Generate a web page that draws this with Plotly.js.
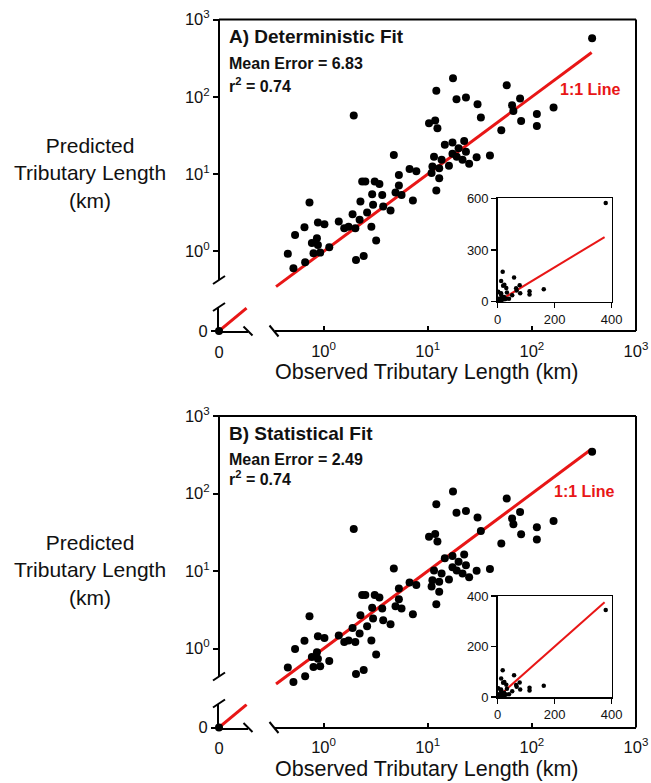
<!DOCTYPE html>
<html><head><meta charset="utf-8">
<script src="https://cdn.plot.ly/plotly-3.0.1.min.js"></script>
<style>html,body{margin:0;padding:0;background:#fff}#chart{width:651px;height:783px}</style>
</head><body><div id="chart"></div>
<script>
// ---- data ----
const observedLength = [379, 1.95, 17.5, 12.1, 18.9, 23.3, 30.1, 32.4, 10.3, 11.8, 12.4, 57.4, 77.1, 64.6, 66.5, 78.9, 111.7, 111.7, 161.6, 50.9,
  4.73, 14.6, 17.3, 22.4, 19.8, 23.3, 17.3, 19.0, 21.6, 25.0, 29.5, 39.6, 11.5, 13.6, 16.0, 11.1, 12.9, 6.7, 7.78, 5.29, 10.9, 12.9, 12.1,
  0.733, 0.533, 0.656, 0.454, 0.514, 0.666, 0.801, 0.773, 0.864, 0.883, 0.929, 0.883, 1.02, 1.135, 1.40, 1.58, 1.74, 2.02, 1.90, 2.26, 2.22, 2.62, 2.88, 3.20, 2.05, 2.43,
  2.35, 2.52, 3.10, 3.44, 2.93, 3.66, 2.99, 3.74, 4.40, 5.29, 4.91, 5.61, 7.21];
const predictedDeterministic = [573, 57.1, 174, 120, 93, 97.7, 80.2, 53.8, 45.5, 49.2, 39.3, 141, 94.8, 77.9, 65.7, 48.8, 60.1, 42.0, 72.5, 37.0,
  17.7, 23.9, 25.6, 26.9, 21.6, 19.5, 18.3, 16.8, 15.3, 13.6, 16.5, 17.4, 16.8, 15.3, 12.8, 12.5, 11.9, 11.6, 10.9, 9.77, 10.3, 8.85, 6.12,
  4.28, 1.63, 2.06, 0.93, 0.606, 0.725, 0.948, 1.28, 1.48, 1.21, 0.965, 2.36, 2.25, 1.13, 2.43, 2.0, 2.09, 2.0, 3.03, 4.41, 2.56, 3.18, 2.09, 1.38, 0.776, 0.875,
  8.0, 8.0, 8.0, 7.47, 5.50, 5.38, 4.0, 3.80, 3.37, 7.10, 5.76, 5.38, 4.54];
const predictedStatistical = [345, 34.8, 106, 73, 56.7, 59.6, 48.9, 32.8, 27.8, 30.0, 24.0, 86, 57.8, 47.5, 40.1, 29.8, 36.7, 25.6, 44.2, 22.6,
  10.8, 14.6, 15.6, 16.4, 13.2, 11.9, 11.2, 10.2, 9.3, 8.3, 10.1, 10.6, 10.2, 9.3, 7.8, 7.6, 7.3, 7.1, 6.6, 5.96, 6.3, 5.4, 3.73,
  2.61, 0.99, 1.26, 0.57, 0.37, 0.44, 0.58, 0.78, 0.90, 0.74, 0.59, 1.44, 1.37, 0.69, 1.48, 1.22, 1.27, 1.22, 1.85, 2.69, 1.56, 1.94, 1.27, 0.84, 0.47, 0.53,
  4.9, 4.9, 4.9, 4.56, 3.36, 3.28, 2.44, 2.32, 2.06, 4.33, 3.51, 3.28, 2.77];
const zeroObserved = [0];
const zeroPredicted = [0];
const oneToOneLine = [0.35, 375];
const zeroSegmentLine = [0, 0.95];
const logTickVals = [1, 10, 100, 1000];
const logTickText = ['10<sup>0</sup>', '10<sup>1</sup>', '10<sup>2</sup>', '10<sup>3</sup>'];
const zeroTickVals = [0];
const zeroTickText = ['0'];
const insetXTicks = [0, 200, 400];
const insetYTicksA = [0, 300, 600];
const insetYTicksB = [0, 200, 400];
const panelTitles = ['A) Deterministic Fit', 'B) Statistical Fit'];
const meanErrors = ['6.83', '2.49'];
const rSquared = ['0.74', '0.74'];
const xTitle = 'Observed Tributary Length (km)';
const yTitle = 'Predicted<br>Tributary Length<br>(km)';
const lineLabel = '1:1 Line';

// ---- layout helpers (pixel -> paper) ----
const W = 651, H = 783;
const fx = p => p / W;
const fy = p => 1 - p / H;
const FONT = 'Liberation Sans, Arial, sans-serif';
const RED = 'rgb(232,22,22)';
const s = n => (n === 1 ? '' : String(n));

const traces = [];
const layout = {
  width: W, height: H, margin: {l: 0, r: 0, t: 0, b: 0},
  paper_bgcolor: '#fff', plot_bgcolor: 'rgba(0,0,0,0)',
  showlegend: false, font: {family: FONT, color: '#111'},
  shapes: [], annotations: []
};

function seg(x0, y0, x1, y1, w) {
  layout.shapes.push({type: 'line', xref: 'paper', yref: 'paper',
    x0: fx(x0), y0: fy(y0), x1: fx(x1), y1: fy(y1), line: {color: '#000', width: w || 2}});
}

const panels = [
  {dy: 0, pred: predictedDeterministic, yLogMin: -0.37, inset: [198.3, 301.7], insetRange: [0, 600], insetTicks: insetYTicksA,
   label: [590.5, 90], r2y: 85},
  {dy: 396.5, pred: predictedStatistical, yLogMin: -0.36, inset: [596, 697], insetRange: [0, 400], insetTicks: insetYTicksB,
   label: [584, 491.7], r2y: 478}
];

panels.forEach((p, k) => {
  const nZ = 3 * k + 1, nL = 3 * k + 2, nI = 3 * k + 3;
  const dy = p.dy;
  const xAxisY = 331 + dy, top = 19.5 + dy, logBottom = 280 + dy;
  const pxPerDec = (logBottom - top) / (3 - p.yLogMin);
  const axBase = {showgrid: false, zeroline: false, showline: true, linecolor: '#000', linewidth: 2,
    ticks: 'outside', ticklen: 6, tickwidth: 2, tickcolor: '#000', fixedrange: true,
    tickfont: {family: FONT, size: 16.5, color: '#111'}};
  const xTickStyle = {ticks: 'inside', ticklen: 4, ticklabelstandoff: 5};

  // zero segment axes
  layout['xaxis' + s(nZ)] = Object.assign({}, axBase, xTickStyle, {domain: [fx(219), fx(248)], range: [0, 1],
    anchor: 'y' + s(nZ), tickmode: 'array', tickvals: zeroTickVals, ticktext: zeroTickText});
  layout['yaxis' + s(nZ)] = Object.assign({}, axBase, {domain: [fy(xAxisY), fy(307 + dy)], range: [0, 1],
    anchor: 'x' + s(nZ), tickmode: 'array', tickvals: zeroTickVals, ticktext: zeroTickText});

  // log axes
  layout['xaxis' + s(nL)] = Object.assign({}, axBase, xTickStyle, {type: 'log', domain: [fx(275), fx(636)], range: [-0.466, 3],
    anchor: 'free', position: fy(xAxisY), tickmode: 'array', tickvals: logTickVals, ticktext: logTickText});
  layout['yaxis' + s(nL)] = Object.assign({}, axBase, {type: 'log', domain: [fy(logBottom + 10), fy(top)],
    range: [p.yLogMin - 10 / pxPerDec, 3], showline: false,
    anchor: 'free', position: fx(219), tickmode: 'array', tickvals: logTickVals, ticktext: logTickText});

  // inset axes
  const insetAx = {showgrid: false, zeroline: false, showline: true, mirror: true, linecolor: '#000', linewidth: 1.5,
    ticks: 'outside', ticklen: 5, tickwidth: 1.5, tickcolor: '#000', fixedrange: true,
    tickfont: {family: FONT, size: 13, color: '#111'}, tickmode: 'array'};
  layout['xaxis' + s(nI)] = Object.assign({}, insetAx, {domain: [fx(497.7), fx(611.7)], range: [0, 400],
    anchor: 'y' + s(nI), tickvals: insetXTicks});
  layout['yaxis' + s(nI)] = Object.assign({}, insetAx, {domain: [fy(p.inset[1]), fy(p.inset[0])], range: p.insetRange,
    anchor: 'x' + s(nI), tickvals: p.insetTicks});

  const ax = n => ({xaxis: 'x' + s(n), yaxis: 'y' + s(n)});

  // zero segment
  traces.push(Object.assign({type: 'scatter', mode: 'lines', x: zeroSegmentLine, y: zeroSegmentLine,
    line: {color: RED, width: 3}, hoverinfo: 'skip'}, ax(nZ)));
  traces.push(Object.assign({type: 'scatter', mode: 'markers', x: zeroObserved, y: zeroPredicted, cliponaxis: false,
    marker: {color: '#000', size: 8}}, ax(nZ)));

  // main log plot
  traces.push(Object.assign({type: 'scatter', mode: 'lines', x: oneToOneLine, y: oneToOneLine,
    line: {color: RED, width: 3}, hoverinfo: 'skip'}, ax(nL)));
  traces.push(Object.assign({type: 'scatter', mode: 'markers', x: observedLength, y: p.pred, cliponaxis: false,
    marker: {color: '#000', size: 8}}, ax(nL)));

  // inset
  traces.push(Object.assign({type: 'scatter', mode: 'lines', x: oneToOneLine, y: oneToOneLine,
    line: {color: RED, width: 2}, hoverinfo: 'skip'}, ax(nI)));
  traces.push(Object.assign({type: 'scatter', mode: 'markers', x: observedLength, y: p.pred,
    marker: {color: '#000', size: 4.5}}, ax(nI)));

  // frame and axis breaks
  seg(219, top, 636, top);
  seg(636, top, 636, xAxisY);
  seg(219, top, 219, logBottom);
  seg(213, logBottom + 4, 225, logBottom - 4);
  seg(213, 311 + dy, 225, 303 + dy);
  seg(243.5, xAxisY - 4.5, 252.5, xAxisY + 4.5);
  seg(269.5, xAxisY - 5.5, 278.5, xAxisY + 5.5);

  // texts
  const ann = (text, x, y, size, opts) => layout.annotations.push(Object.assign({
    text: text, xref: 'paper', yref: 'paper', x: fx(x), y: fy(y), showarrow: false,
    xanchor: 'left', yanchor: 'middle', font: {family: FONT, size: size, color: '#111'}}, opts || {}));
  ann('<b>' + panelTitles[k] + '</b>', 227, 37 + dy, 19);
  ann('<b>Mean Error = ' + meanErrors[k] + '</b>', 227, 63 + dy, 16);
  ann('<b>r<sup>2</sup> = ' + rSquared[k] + '</b>', 227, p.r2y, 16);
  ann('<b>' + lineLabel + '</b>', p.label[0], p.label[1], 16, {xanchor: 'center', font: {family: FONT, size: 16, color: RED}});
  ann(xTitle, 427, 372 + dy, 21.5, {xanchor: 'center'});
  ann(yTitle, 90, 173 + dy, 21, {xanchor: 'center'});
});

Plotly.newPlot('chart', traces, layout, {displayModeBar: false, staticPlot: true});
</script>
</body></html>
